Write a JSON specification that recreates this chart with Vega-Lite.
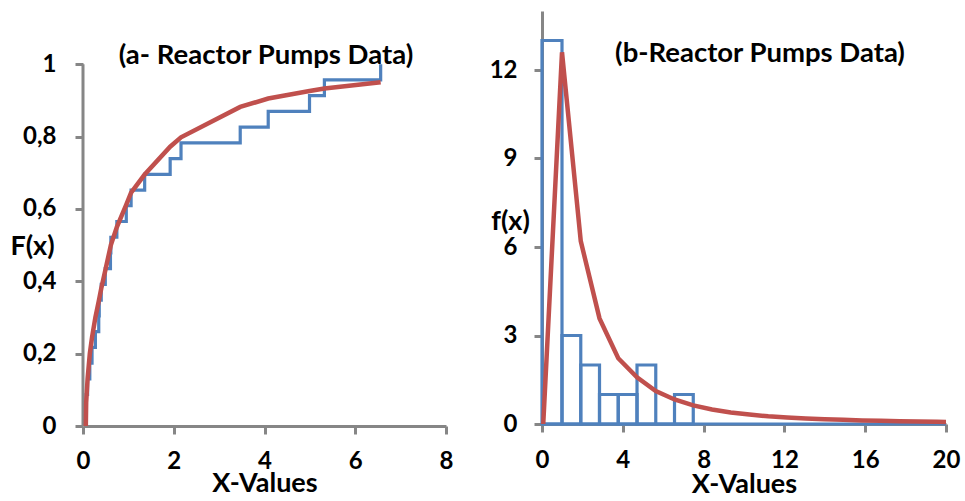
{
  "$schema": "https://vega.github.io/schema/vega-lite/v6.json",
  "background": "white",
  "padding": {"left": 9, "top": 11, "right": 10, "bottom": 5},
  "bounds": "flush",
  "spacing": 96,
  "config": {
    "view": {"stroke": null},
    "font": "Lato",
    "axis": {
      "grid": false,
      "domainColor": "#868686", "domainWidth": 3,
      "tickColor": "#868686", "tickWidth": 3, "tickSize": 8,
      "labelFont": "Lato", "labelFontWeight": "bold", "labelFontSize": 24, "labelColor": "black",
      "titleFont": "Lato", "titleFontWeight": "bold", "titleFontSize": 27, "titleColor": "black"
    },
    "title": {"font": "Lato", "fontWeight": "bold", "fontSize": 27.5, "color": "black", "frame": "group", "anchor": "middle", "baseline": "middle"}
  },
  "hconcat": [
    {
      "width": 363,
      "height": 415,
      "title": {"text": "(a- Reactor Pumps Data)", "offset": -58, "dx": 1.5},
      "data": {"values": [
        {"s": "step", "i": 0, "x": 0.062, "y": 0},
        {"s": "step", "i": 1, "x": 0.062, "y": 0.0435},
        {"s": "step", "i": 2, "x": 0.070, "y": 0.0870},
        {"s": "step", "i": 3, "x": 0.101, "y": 0.1304},
        {"s": "step", "i": 4, "x": 0.150, "y": 0.1739},
        {"s": "step", "i": 5, "x": 0.199, "y": 0.2174},
        {"s": "step", "i": 6, "x": 0.273, "y": 0.2609},
        {"s": "step", "i": 7, "x": 0.347, "y": 0.3043},
        {"s": "step", "i": 8, "x": 0.358, "y": 0.3478},
        {"s": "step", "i": 9, "x": 0.402, "y": 0.3913},
        {"s": "step", "i": 10, "x": 0.491, "y": 0.4348},
        {"s": "step", "i": 11, "x": 0.605, "y": 0.4783},
        {"s": "step", "i": 12, "x": 0.614, "y": 0.5217},
        {"s": "step", "i": 13, "x": 0.746, "y": 0.5652},
        {"s": "step", "i": 14, "x": 0.954, "y": 0.6087},
        {"s": "step", "i": 15, "x": 1.060, "y": 0.6522},
        {"s": "step", "i": 16, "x": 1.359, "y": 0.6957},
        {"s": "step", "i": 17, "x": 1.921, "y": 0.7391},
        {"s": "step", "i": 18, "x": 2.160, "y": 0.7826},
        {"s": "step", "i": 19, "x": 3.465, "y": 0.8261},
        {"s": "step", "i": 20, "x": 4.082, "y": 0.8696},
        {"s": "step", "i": 21, "x": 4.992, "y": 0.9130},
        {"s": "step", "i": 22, "x": 5.320, "y": 0.9565},
        {"s": "step", "i": 23, "x": 6.560, "y": 1.0},
        {"s": "fit", "i": 0, "x": 0.062, "y": 0},
        {"s": "fit", "i": 1, "x": 0.070, "y": 0.065},
        {"s": "fit", "i": 2, "x": 0.101, "y": 0.13},
        {"s": "fit", "i": 3, "x": 0.150, "y": 0.20},
        {"s": "fit", "i": 4, "x": 0.199, "y": 0.245},
        {"s": "fit", "i": 5, "x": 0.273, "y": 0.30},
        {"s": "fit", "i": 6, "x": 0.347, "y": 0.345},
        {"s": "fit", "i": 7, "x": 0.358, "y": 0.352},
        {"s": "fit", "i": 8, "x": 0.402, "y": 0.38},
        {"s": "fit", "i": 9, "x": 0.491, "y": 0.43},
        {"s": "fit", "i": 10, "x": 0.605, "y": 0.495},
        {"s": "fit", "i": 11, "x": 0.614, "y": 0.50},
        {"s": "fit", "i": 12, "x": 0.746, "y": 0.55},
        {"s": "fit", "i": 13, "x": 0.954, "y": 0.612},
        {"s": "fit", "i": 14, "x": 1.060, "y": 0.645},
        {"s": "fit", "i": 15, "x": 1.359, "y": 0.695},
        {"s": "fit", "i": 16, "x": 1.921, "y": 0.772},
        {"s": "fit", "i": 17, "x": 2.160, "y": 0.798},
        {"s": "fit", "i": 18, "x": 3.465, "y": 0.882},
        {"s": "fit", "i": 19, "x": 4.082, "y": 0.905},
        {"s": "fit", "i": 20, "x": 4.992, "y": 0.926},
        {"s": "fit", "i": 21, "x": 5.320, "y": 0.933},
        {"s": "fit", "i": 22, "x": 6.560, "y": 0.950}
      ]},
      "encoding": {
        "x": {
          "field": "x", "type": "quantitative",
          "scale": {"domain": [0, 8], "nice": false, "zero": false},
          "axis": {"values": [0, 2, 4, 6, 8], "title": "X-Values", "labelBaseline": "alphabetic", "labelPadding": 34, "labelFlush": false, "titleBaseline": "alphabetic", "titleY": 65}
        },
        "y": {
          "field": "y", "type": "quantitative",
          "scale": {"domain": [0, 1.147], "nice": false},
          "axis": {"values": [0, 0.2, 0.4, 0.6, 0.8, 1], "domain": false, "title": "F(x)", "titleAngle": 0, "titleAlign": "center", "titleBaseline": "middle", "titleX": -51, "titleY": 235, "labelPadding": 19,
            "labelExpr": "datum.value == 0 ? '0' : datum.value == 1 ? '1' : replace(format(datum.value, '.1f'), '.', ',')"}
        }
      },
      "layer": [
        {
          "transform": [{"filter": "datum.s == 'fit' && datum.i == 0"}],
          "mark": {"type": "rule", "color": "#868686", "strokeWidth": 3},
          "encoding": {"x": {"datum": 0, "type": "quantitative"}, "y": {"datum": 0, "type": "quantitative"}, "y2": {"datum": 1}}
        },
        {
          "transform": [{"filter": "datum.s == 'step'"}],
          "mark": {"type": "line", "interpolate": "step-after", "color": "#4F81BD", "strokeWidth": 3.2},
          "encoding": {"order": {"field": "i", "type": "quantitative"}}
        },
        {
          "transform": [{"filter": "datum.s == 'fit'"}],
          "mark": {"type": "line", "color": "#C0504D", "strokeWidth": 4.5},
          "encoding": {"order": {"field": "i", "type": "quantitative"}}
        }
      ]
    },
    {
      "width": 404,
      "height": 413,
      "title": {"text": "(b-Reactor Pumps Data)", "offset": -56, "dx": 16},
      "data": {"values": [
        {"s": "bar", "x": 0, "xe": 0.990, "y": 13},
        {"s": "bar", "x": 0.990, "xe": 1.919, "y": 3},
        {"s": "bar", "x": 1.919, "xe": 2.847, "y": 2},
        {"s": "bar", "x": 2.847, "xe": 3.775, "y": 1},
        {"s": "bar", "x": 3.775, "xe": 4.704, "y": 1},
        {"s": "bar", "x": 4.704, "xe": 5.632, "y": 2},
        {"s": "bar", "x": 5.632, "xe": 6.560, "y": 0},
        {"s": "bar", "x": 6.560, "xe": 7.488, "y": 1},
        {"s": "fit", "x": 0.062, "y": 0},
        {"s": "fit", "x": 0.990, "y": 12.6},
        {"s": "fit", "x": 1.919, "y": 6.2},
        {"s": "fit", "x": 2.847, "y": 3.58},
        {"s": "fit", "x": 3.775, "y": 2.23},
        {"s": "fit", "x": 4.704, "y": 1.58},
        {"s": "fit", "x": 5.632, "y": 1.12},
        {"s": "fit", "x": 6.560, "y": 0.83},
        {"s": "fit", "x": 7.488, "y": 0.63},
        {"s": "fit", "x": 8.417, "y": 0.49},
        {"s": "fit", "x": 9.345, "y": 0.39},
        {"s": "fit", "x": 10.27, "y": 0.32},
        {"s": "fit", "x": 11.20, "y": 0.26},
        {"s": "fit", "x": 12.13, "y": 0.22},
        {"s": "fit", "x": 13.06, "y": 0.19},
        {"s": "fit", "x": 13.99, "y": 0.16},
        {"s": "fit", "x": 14.92, "y": 0.14},
        {"s": "fit", "x": 15.85, "y": 0.12},
        {"s": "fit", "x": 16.78, "y": 0.11},
        {"s": "fit", "x": 17.70, "y": 0.095},
        {"s": "fit", "x": 18.63, "y": 0.085},
        {"s": "fit", "x": 19.56, "y": 0.077},
        {"s": "fit", "x": 20.0, "y": 0.07}
      ]},
      "encoding": {
        "x": {
          "field": "x", "type": "quantitative",
          "scale": {"domain": [0, 20], "nice": false},
          "axis": {"values": [0, 4, 8, 12, 16, 20], "title": "X-Values", "labelBaseline": "alphabetic", "labelPadding": 35, "labelFlush": false, "titleBaseline": "alphabetic", "titleY": 68}
        },
        "y": {
          "field": "y", "type": "quantitative",
          "scale": {"domain": [0, 14], "nice": false},
          "axis": {"values": [0, 3, 6, 9, 12], "title": "f(x)", "titleAngle": 0, "titleAlign": "center", "titleBaseline": "middle", "titleX": -32, "titleY": 210, "labelPadding": 17}
        }
      },
      "layer": [
        {
          "transform": [{"filter": "datum.s == 'bar'"}],
          "mark": {"type": "rect", "fill": null, "fillOpacity": 0, "stroke": "#4F81BD", "strokeWidth": 3.2},
          "encoding": {"x2": {"field": "xe"}, "y2": {"datum": 0}}
        },
        {
          "transform": [{"filter": "datum.s == 'fit' && datum.x == 20"}],
          "mark": {"type": "rule", "color": "#4F81BD", "strokeWidth": 3.2},
          "encoding": {"x": {"datum": 0, "type": "quantitative"}, "x2": {"datum": 20}, "y": {"datum": 0, "type": "quantitative"}}
        },
        {
          "transform": [{"filter": "datum.s == 'fit'"}],
          "mark": {"type": "line", "color": "#C0504D", "strokeWidth": 4.5}
        }
      ]
    }
  ]
}
